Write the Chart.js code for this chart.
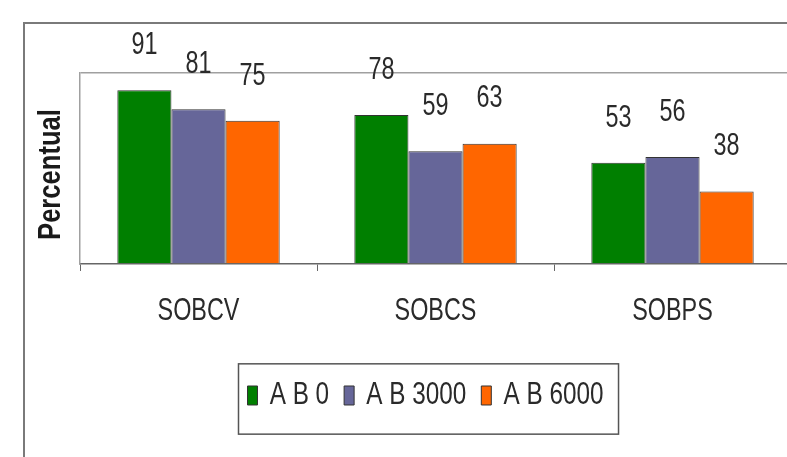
<!DOCTYPE html>
<html lang="pt">
<head>
    <meta charset="UTF-8">
    <title>Percentual por tratamento</title>
    <style>
        body {
            margin: 0;
            padding: 0;
            background: #ffffff;
            overflow: hidden;
        }
        .chart-box {
            position: absolute;
            left: 0;
            top: 0;
            width: 792px;
            height: 457px;
        }
    </style>
</head>
<body>

    <div class="chart-box">
        <canvas id="barChart"></canvas>
    </div>

    <script src="https://cdn.jsdelivr.net/npm/chart.js"></script>

    <script>
        // data
        const categories = ['SOBCV', 'SOBCS', 'SOBPS'];
        const seriesNames = ['A B 0', 'A B 3000', 'A B 6000'];
        const ab0 = [91, 78, 53];
        const ab3000 = [81, 59, 56];
        const ab6000 = [75, 63, 38];
        const yTicks = [0, 100];

        const colors = ['#007f00', '#666699', '#ff6600'];
        const family = "'Liberation Sans', Arial, sans-serif";
        // the original uses a narrow font, so text is squeezed sideways
        const squeeze = 0.73;
        const legendSqueeze = 0.76;

        function narrowText(c, text, x, y, size, sx, opts) {
            opts = opts || {};
            c.save();
            c.translate(x, y);
            if (opts.angle) c.rotate(opts.angle);
            c.scale(sx, 1);
            c.font = (opts.bold ? 'bold ' : '') + size + 'px ' + family;
            c.fillStyle = opts.color || '#2a2a2a';
            c.textAlign = opts.align || 'center';
            c.textBaseline = 'middle';
            c.fillText(text, 0, 0);
            const w = c.measureText(text).width * sx;
            c.restore();
            return w;
        }

        // outer frame lines (left + top) like the cropped original
        const framePlugin = {
            id: 'frame',
            beforeDraw(chart) {
                const c = chart.ctx;
                c.save();
                c.strokeStyle = '#7a7a7a';
                c.lineWidth = 2;
                c.beginPath();
                c.moveTo(24, chart.height);
                c.lineTo(24, 23);
                c.lineTo(chart.width, 23);
                c.stroke();
                c.restore();
            }
        };

        // value labels, category labels and axis title in the narrow style
        const textPlugin = {
            id: 'narrowTexts',
            afterDatasetsDraw(chart) {
                const c = chart.ctx;
                chart.data.datasets.forEach((ds, i) => {
                    chart.getDatasetMeta(i).data.forEach((bar, j) => {
                        narrowText(c, String(ds.data[j]), bar.x, bar.y - 45, 32, squeeze);
                    });
                });
                const xs = chart.scales.x;
                chart.data.labels.forEach((lab, i) => {
                    narrowText(c, lab, xs.getPixelForValue(i), xs.top + 47, 32, squeeze);
                });
                const ys = chart.scales.y;
                narrowText(c, ys.options.title.text, ys.left + 21, (ys.top + ys.bottom) / 2 + 6, 32, 0.8,
                    { bold: true, angle: -Math.PI / 2, color: '#1a1a1a' });
            }
        };

        // legend: nudge left, draw narrow text and the frame round it
        const legendPlugin = {
            id: 'legendExtras',
            afterLayout(chart) {
                chart.legend.left -= 10;
                chart.legend.right -= 10;
            },
            afterDraw(chart) {
                const legend = chart.legend;
                const boxes = legend.legendHitBoxes;
                if (!boxes || !boxes.length) return;
                const c = chart.ctx;
                const lab = legend.options.labels;
                const fs = lab.font.size;
                let textEnd = 0;
                legend.legendItems.forEach((item, i) => {
                    const hb = boxes[i];
                    const tx = hb.left + lab.boxWidth + fs / 2;
                    const w = narrowText(c, item.text, tx, hb.top + hb.height / 2, 32, legendSqueeze, { align: 'left' });
                    textEnd = Math.max(textEnd, tx + w);
                });
                const left = Math.min(...boxes.map(b => b.left));
                const top = Math.min(...boxes.map(b => b.top));
                const bottom = Math.max(...boxes.map(b => b.top + b.height));
                c.save();
                c.strokeStyle = '#555';
                c.lineWidth = 1.5;
                c.strokeRect(left - 9, top - 19.5, textEnd - left + 24, bottom - top + 46);
                c.restore();
            }
        };

        const ctx = document.getElementById('barChart').getContext('2d');
        const values = [ab0, ab3000, ab6000];

        new Chart(ctx, {
            type: 'bar',
            data: {
                labels: categories,
                datasets: seriesNames.map((name, i) => ({
                    label: name,
                    data: values[i],
                    backgroundColor: colors[i],
                    borderColor: '#333',
                    borderWidth: 1,
                    categoryPercentage: 0.685,
                    barPercentage: 1.0
                }))
            },
            options: {
                responsive: true,
                maintainAspectRatio: false,
                animation: false,
                layout: {
                    padding: { left: 30, right: 1, top: 73, bottom: 39.35 }
                },
                plugins: {
                    tooltip: { enabled: false },
                    legend: {
                        position: 'bottom',
                        fullSize: false,
                        labels: {
                            boxWidth: 10,
                            boxHeight: 19,
                            padding: 15,
                            color: 'rgba(0,0,0,0)',
                            font: { family: family, size: 32 * legendSqueeze }
                        }
                    }
                },
                scales: {
                    x: {
                        border: { color: '#666', width: 1.5 },
                        grid: {
                            drawOnChartArea: false,
                            drawTicks: true,
                            tickLength: 7,
                            color: '#666'
                        },
                        ticks: {
                            color: 'rgba(0,0,0,0)',
                            font: { family: family, size: 32 * squeeze }
                        },
                        afterFit: axis => { axis.height = 104.35; }
                    },
                    y: {
                        min: yTicks[0],
                        max: yTicks[yTicks.length - 1],
                        afterBuildTicks: axis => {
                            axis.ticks = yTicks.map(v => ({ value: v }));
                        },
                        border: { color: '#a0a0a0', width: 1.5 },
                        grid: {
                            drawTicks: false,
                            color: c => c.tick && c.tick.value === 100 ? '#a0a0a0' : 'rgba(0,0,0,0)',
                            lineWidth: 1.5
                        },
                        ticks: { display: false },
                        title: {
                            display: true,
                            text: 'Percentual',
                            color: 'rgba(0,0,0,0)',
                            padding: { top: 0, bottom: 12 },
                            font: { family: family, size: 32, weight: 'bold' }
                        },
                        afterFit: axis => { axis.width = 50; }
                    }
                }
            },
            plugins: [framePlugin, textPlugin, legendPlugin]
        });
    </script>

</body>
</html>
